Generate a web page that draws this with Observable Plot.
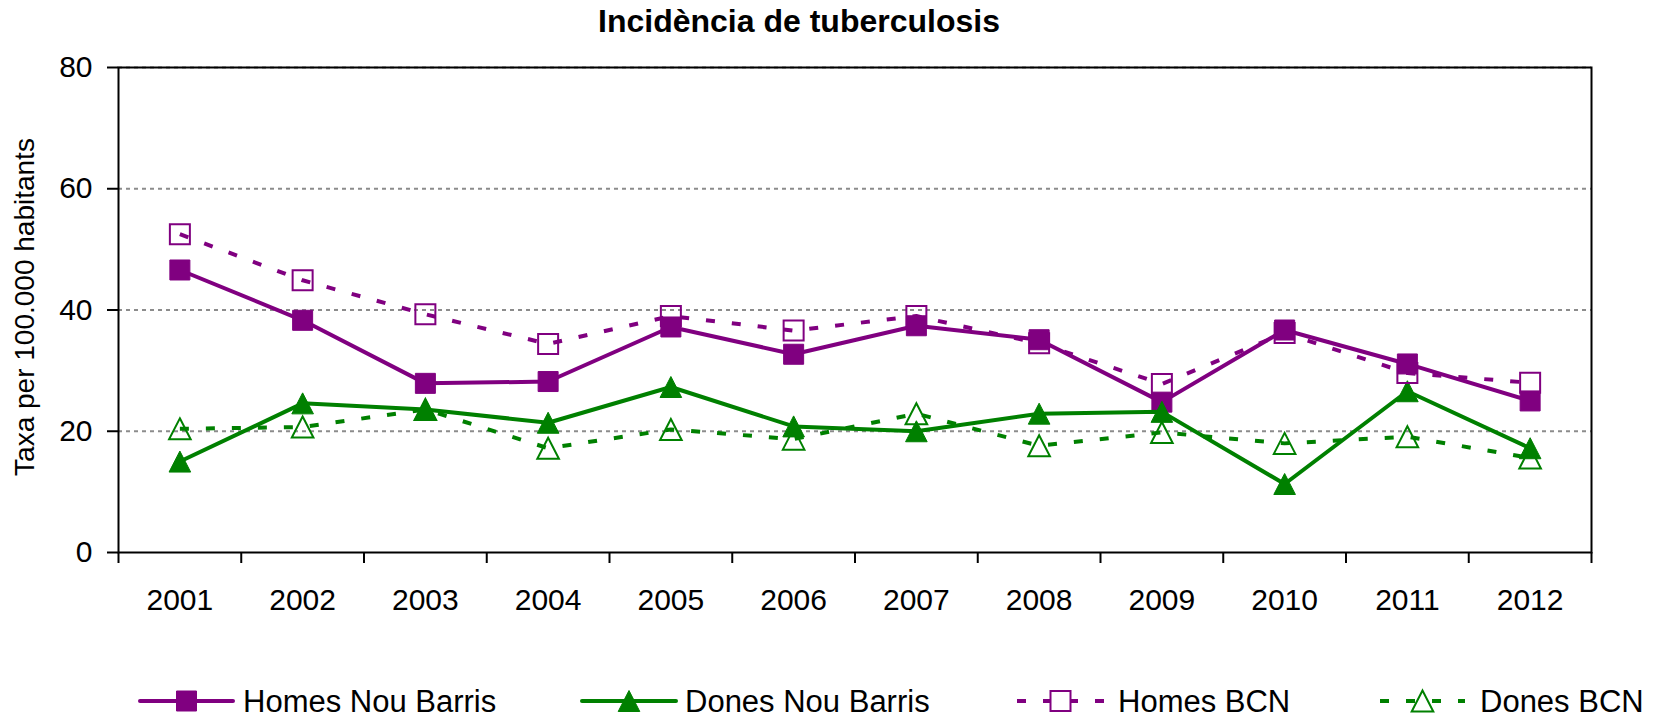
<!DOCTYPE html>
<html>
<head>
<meta charset="utf-8">
<script src="https://cdn.jsdelivr.net/npm/d3@7"></script>
<script src="https://cdn.jsdelivr.net/npm/@observablehq/plot@0.6"></script>
<style>
  html, body { margin: 0; padding: 0; background: #fff; }
  #wrap { position: relative; width: 1662px; height: 719px; overflow: hidden; font-family: "Liberation Sans", Arial, sans-serif; }
  #chart { position: absolute; left: 0; top: 0; }
  #title { position: absolute; left: 0; top: 5px; width: 1598px; text-align: center; font-weight: bold; font-size: 32px; line-height: 32px; color: #000; z-index: 2; }
  #legend { position: absolute; left: 0; top: 640px; z-index: 2; }
</style>
</head>
<body>
<div id="wrap">
  <div id="chart"></div>
  <div id="title">Incidència de tuberculosis</div>
  <svg id="legend" width="1662" height="79"></svg>
</div>
<script>
// ---- data ----
const years = [2001, 2002, 2003, 2004, 2005, 2006, 2007, 2008, 2009, 2010, 2011, 2012];
const homesNouBarris = [46.6, 38.3, 27.9, 28.2, 37.2, 32.7, 37.4, 35.1, 24.8, 36.7, 31.1, 25.0];
const donesNouBarris = [15.0, 24.6, 23.6, 21.4, 27.3, 20.8, 20.0, 22.9, 23.2, 11.3, 26.6, 17.2];
const homesBCN = [52.5, 44.9, 39.3, 34.4, 39.0, 36.6, 39.0, 34.5, 27.8, 36.2, 29.6, 28.0];
const donesBCN = [20.4, 20.7, 23.6, 17.2, 20.3, 18.7, 22.9, 17.6, 19.8, 18.0, 19.1, 15.6];
const seriesNames = ["Homes Nou Barris", "Dones Nou Barris", "Homes BCN", "Dones BCN"];
const yTicks = [0, 20, 40, 60, 80];
const yTitle = "Taxa per 100.000 habitants";
const titleText = "Incidència de tuberculosis";

// ---- styles ----
const purple = "#800080", green = "#008000";
const dashPattern = "9,17";
const squareSym = { draw(ctx) { ctx.moveTo(-10, -10); ctx.lineTo(10, -10); ctx.lineTo(10, 10); ctx.lineTo(-10, 10); ctx.closePath(); } };
const triSym = { draw(ctx) { ctx.moveTo(0, -10.5); ctx.lineTo(10.8, 10.5); ctx.lineTo(-10.8, 10.5); ctx.closePath(); } };

const seriesDefs = [
  { name: seriesNames[0], values: homesNouBarris, color: purple, dashed: false, symbol: squareSym, filled: true },
  { name: seriesNames[1], values: donesNouBarris, color: green, dashed: false, symbol: triSym, filled: true },
  { name: seriesNames[2], values: homesBCN, color: purple, dashed: true, symbol: squareSym, filled: false },
  { name: seriesNames[3], values: donesBCN, color: green, dashed: true, symbol: triSym, filled: false }
];

const boundaries = d3.range(years.length + 1).map(i => years[0] - 0.5 + i);

const seriesMarks = seriesDefs.flatMap(s => {
  const rows = years.map((y, i) => ({ year: y, value: s.values[i] }));
  return [
    Plot.line(rows, { x: "year", y: "value", stroke: s.color, strokeWidth: 4, strokeDasharray: s.dashed ? dashPattern : null, strokeLinejoin: "miter", strokeLinecap: "butt" }),
    Plot.dot(rows, { x: "year", y: "value", symbol: s.symbol, r: 10, fill: s.filled ? s.color : "none", stroke: s.color, strokeWidth: s.filled ? 1 : 2 })
  ];
});

document.getElementById("title").textContent = titleText;

const chart = Plot.plot({
  width: 1662,
  height: 640,
  marginLeft: 118,
  marginRight: 71,
  marginTop: 67,
  marginBottom: 88,
  style: { fontFamily: "'Liberation Sans', Arial, sans-serif", background: "transparent", color: "#000", overflow: "visible" },
  x: { type: "linear", domain: [boundaries[0], boundaries[boundaries.length - 1]] },
  y: { domain: [yTicks[0], yTicks[yTicks.length - 1]] },
  marks: [
    Plot.gridY(yTicks.slice(1), { stroke: "#8c8c8c", strokeOpacity: 1, strokeWidth: 2, strokeDasharray: "4,4" }),
    Plot.frame({ stroke: "#000", strokeWidth: 2 }),
    Plot.axisY(yTicks, { tickSize: 11, tickPadding: 15, fontSize: 30, strokeWidth: 2, label: null, tickFormat: d => String(d) }),
    Plot.axisX(boundaries, { tickSize: 11, strokeWidth: 2, tickFormat: () => "", label: null }),
    Plot.axisX(years, { tickSize: 0, tickPadding: 36, fontSize: 30, tickFormat: d => String(d), label: null }),
    Plot.text([yTitle], { text: d => d, frameAnchor: "left", rotate: -90, dx: -84.5, dy: -3, fontSize: 28, textAnchor: "middle", lineAnchor: "bottom", fill: "#000" }),
    ...seriesMarks
  ]
});
document.getElementById("chart").appendChild(chart);

// ---- legend ----
const legendPos = [
  { x0: 140, x1: 233, tx: 243 },
  { x0: 582, x1: 676, tx: 685 },
  { x0: 1017, x1: 1104, tx: 1118 },
  { x0: 1380, x1: 1465, tx: 1480 }
];
const lg = d3.select("#legend");
const cy = 61;
seriesDefs.forEach((s, i) => {
  const p = legendPos[i];
  const g = lg.append("g");
  g.append("line").attr("x1", p.x0).attr("x2", p.x1).attr("y1", cy).attr("y2", cy)
    .attr("stroke", s.color).attr("stroke-width", 4)
    .attr("stroke-dasharray", s.dashed ? dashPattern : null)
    .attr("stroke-linecap", s.dashed ? "butt" : "round");
  const path = d3.path();
  s.symbol.draw(path);
  g.append("path").attr("d", path.toString())
    .attr("transform", `translate(${(p.x0 + p.x1) / 2},${cy})`)
    .attr("fill", s.filled ? s.color : "white").attr("stroke", s.color).attr("stroke-width", s.filled ? 1 : 2);
  g.append("text").attr("x", p.tx).attr("y", cy + 11)
    .attr("font-family", "'Liberation Sans', Arial, sans-serif").attr("font-size", 31).attr("fill", "#000")
    .text(s.name);
});
</script>
</body>
</html>
